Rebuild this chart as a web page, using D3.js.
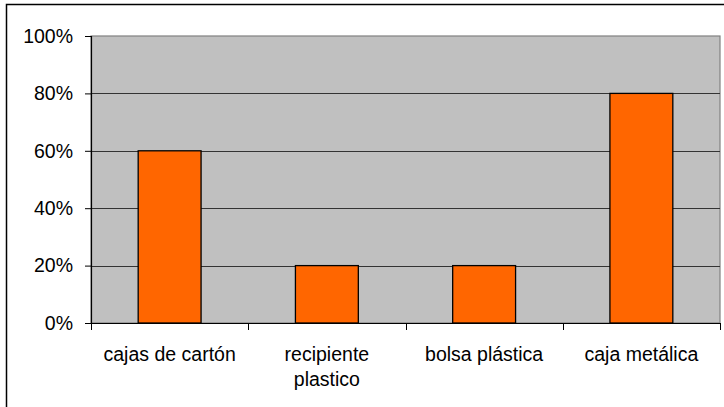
<!DOCTYPE html>
<html>
<head>
<meta charset="utf-8">
<script src="https://cdn.jsdelivr.net/npm/d3@7"></script>
<style>
  html, body { margin: 0; padding: 0; background: #fff; }
  svg { display: block; font-family: "Liberation Sans", Arial, sans-serif; }
</style>
</head>
<body>
<svg id="chart" width="724" height="407"></svg>
<script>
// Containers by share of use
const categories = ["cajas de cartón", "recipiente plastico", "bolsa plástica", "caja metálica"];
const categoryLines = [["cajas de cartón"], ["recipiente", "plastico"], ["bolsa plástica"], ["caja metálica"]];
const values = [0.6, 0.2, 0.2, 0.8];
const yTicks = [0, 0.2, 0.4, 0.6, 0.8, 1.0];

const svg = d3.select("#chart");
const plot = { left: 91, right: 720, top: 36, bottom: 323 };
const fontSize = 19.5;

// outer chart frame
svg.append("rect")
  .attr("x", 6.5).attr("y", 4.5)
  .attr("width", 724).attr("height", 410)
  .attr("fill", "#fff").attr("stroke", "#000").attr("stroke-width", 1.5);

const x = d3.scaleBand().domain(categories).range([plot.left, plot.right]).paddingInner(0).paddingOuter(0);
const y = d3.scaleLinear().domain([0, 1]).range([plot.bottom, plot.top]);

// plot area
svg.append("rect")
  .attr("x", plot.left).attr("y", plot.top)
  .attr("width", plot.right - plot.left).attr("height", plot.bottom - plot.top)
  .attr("fill", "#c0c0c0").attr("stroke", "#808080").attr("stroke-width", 1.2);

// gridlines
svg.append("g").selectAll("line").data(yTicks.filter(d => d > 0 && d < 1)).join("line")
  .attr("x1", plot.left).attr("x2", plot.right)
  .attr("y1", d => Math.round(y(d)) + 0.5).attr("y2", d => Math.round(y(d)) + 0.5)
  .attr("stroke", "#333").attr("stroke-width", 1);

// bars (gap width 150%)
const barW = x.bandwidth() / 2.5;
svg.append("g").selectAll("rect").data(values).join("rect")
  .attr("x", (d, i) => x(categories[i]) + (x.bandwidth() - barW) / 2)
  .attr("y", d => y(d))
  .attr("width", barW)
  .attr("height", d => plot.bottom - y(d))
  .attr("fill", "#ff6600").attr("stroke", "#000").attr("stroke-width", 1.3);

// y axis
const yAxis = d3.axisLeft(y).tickValues(yTicks).tickFormat(d3.format(".0%")).tickSize(6).tickPadding(12);
const gy = svg.append("g").attr("transform", `translate(${plot.left},0)`).call(yAxis);
gy.select(".domain").attr("stroke", "#000").attr("stroke-width", 1.2).attr("d", `M0.5,${plot.top}V${plot.bottom}`);
gy.selectAll(".tick line").attr("stroke", "#000");
gy.selectAll(".tick text").attr("font-size", fontSize).attr("fill", "#000")
  .attr("font-family", "'Liberation Sans', Arial, sans-serif");

// x axis with ticks at band edges
const gx = svg.append("g").attr("transform", `translate(0,${plot.bottom})`);
gx.append("line").attr("x1", plot.left).attr("x2", plot.right).attr("y1", 0.5).attr("y2", 0.5)
  .attr("stroke", "#000").attr("stroke-width", 1.2);
const edges = categories.map(c => x(c)).concat([plot.right]);
gx.selectAll("line.tk").data(edges).join("line").attr("class", "tk")
  .attr("x1", d => Math.round(d) + 0.5).attr("x2", d => Math.round(d) + 0.5)
  .attr("y1", 0).attr("y2", 7).attr("stroke", "#000");

// category labels
const lbl = gx.selectAll("text.cat").data(categoryLines).join("text").attr("class", "cat")
  .attr("text-anchor", "middle").attr("font-size", fontSize).attr("fill", "#000")
  .attr("transform", (d, i) => `translate(${x(categories[i]) + x.bandwidth() / 2},38)`);
lbl.selectAll("tspan").data(d => d).join("tspan")
  .attr("x", 0).attr("dy", (d, j) => j === 0 ? 0 : 25).text(d => d);
</script>
</body>
</html>
